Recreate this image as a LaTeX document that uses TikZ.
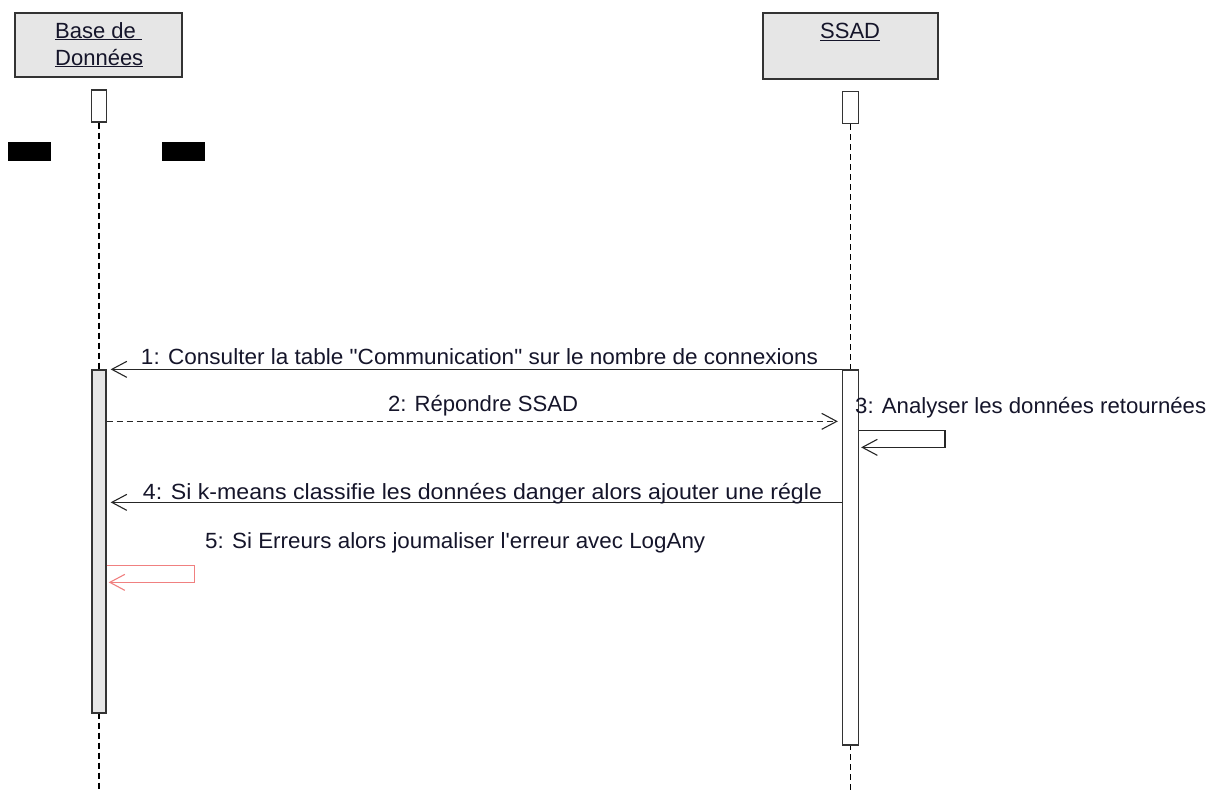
\documentclass[tikz,border=0pt]{standalone}
\usepackage{fontspec}
\setmainfont{Liberation Sans}[Ligatures=TeXOff]
\usepackage{graphicx}
\usetikzlibrary{arrows.meta}

\definecolor{boxfill}{HTML}{E6E6E6}
\definecolor{boxline}{HTML}{333333}
\definecolor{inkcol}{HTML}{15152A}
\definecolor{errcol}{HTML}{F08080}

\begin{document}
\begin{tikzpicture}[x=1pt,y=-1pt,
  head/.style={draw=boxline, fill=boxfill, line width=1.3pt, inner sep=0pt},
  lifetop/.style={draw=boxline, fill=white, line width=1.3pt, inner sep=0pt, minimum width=15pt, minimum height=32pt},
  lifeline/.style={draw=black, line width=1.4pt, dash pattern=on 6pt off 4pt},
  actbar/.style={draw=boxline, line width=1.3pt, inner sep=0pt},
  blk/.style={fill=black, inner sep=0pt, minimum width=43pt, minimum height=19pt},
  htxt/.style={inner sep=0pt, text=inkcol, font=\fontsize{22}{26}\selectfont},
  lbl/.style={inner sep=0pt, text=inkcol, font=\fontsize{22}{26}\selectfont},
  msg/.style={draw=black!85, line width=1.4pt, shorten >=4pt,
    -{Straight Barb[length=15pt,width=16pt,line width=1.1pt]}},
  selfmsg/.style={msg, shorten >=2pt}
]
\useasboundingbox (0,0) rectangle (1209,792);

% participant heads
\node[head, minimum width=167pt, minimum height=64pt] (db) at (98.5,45) {};
\node[head, minimum width=175pt, minimum height=66pt] (ssad) at (850.5,46) {};
\node[htxt, anchor=base west] (dbname1) at (55,38) {\underline{Base de }};
\node[htxt, anchor=base west] (dbname2) at (55,65) {\underline{Données}};
\node[htxt, anchor=base west] (ssadname) at (820,39) {\underline{SSAD}};

% small boxes under the heads
\node[lifetop] (dbtop) at (99,106) {};
\node[lifetop, minimum width=16pt] (ssadtop) at (850.5,107.5) {};

% black bars
\node[blk] (bar1) at (29.5,151.5) {};
\node[blk] (bar2) at (183.5,151.5) {};

% lifelines
\coordinate (dbend) at (99,792);
\coordinate (ssadend) at (850.5,792);
\draw[lifeline] (dbtop.south) -- (dbend);
\draw[lifeline] (ssadtop.south) -- (ssadend);

% activation bars
\node[actbar, fill=boxfill, minimum width=14pt, minimum height=343pt] (act1) at (99,541.5) {};
\node[actbar, fill=white, minimum width=16pt, minimum height=375pt] (act2) at (850.5,557.5) {};

% messages
\draw[msg] (act2.north west) -- (act2.north west -| act1.east);
\draw[msg, line width=1.2pt, dash pattern=on 6pt off 4pt] ([yshift=-52pt]act1.north east) -- ([yshift=-52pt]act1.north east -| act2.west);
\draw[selfmsg] ([yshift=-61pt]act2.north east) -- ++(86,0) -- ++(0,17) -- ([yshift=-78pt]act2.north east);
\draw[msg] ([yshift=-133pt]act2.north west) -- ([yshift=-133pt]act2.north west -| act1.east);
\draw[selfmsg, draw=errcol, line width=1.1pt] ([yshift=-196pt]act1.north east) -- ++(88,0) -- ++(0,17) -- ([yshift=-213pt]act1.north east);

% message labels
\node[lbl, anchor=base] (lab1) at (479.5,364) {\resizebox{677pt}{\height}{1: Consulter la table "Communication" sur le nombre de connexions}};
\node[lbl, anchor=base] (lab2) at (483,411) {\resizebox{190pt}{\height}{2: Répondre SSAD}};
\node[lbl, anchor=base west] (lab3) at (855,413) {\resizebox{351pt}{\height}{3: Analyser les données retournées}};
\node[lbl, anchor=base] (lab4) at (482.5,499) {\resizebox{679pt}{\height}{4: Si k-means classifie les données danger alors ajouter une régle}};
\node[lbl, anchor=base west] (lab5) at (205,548) {\resizebox{500pt}{\height}{5: Si Erreurs alors joumaliser l'erreur avec LogAny}};
\end{tikzpicture}
\end{document}
